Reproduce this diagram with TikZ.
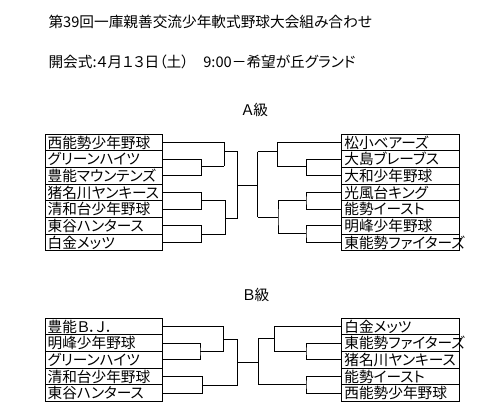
\documentclass[tikz,border=0pt]{standalone}
\usepackage{fontspec}
\setmainfont{Noto Sans CJK JP}[RawFeature=+palt]
\usetikzlibrary{positioning}

\begin{document}
\begin{tikzpicture}[x=0.75pt, y=-0.75pt, node distance=0pt,
    every node/.style={font=\fontsize{11}{13}\selectfont},
    team/.style={draw, line width=0.75pt, minimum width=88pt,
    minimum height=12.5pt, text width=84pt, inner xsep=2pt,
    inner ysep=0pt, outer sep=0pt, align=left},
    every path/.style={line width=0.75pt}]
  \useasboundingbox (0,0) rectangle (501,419);
  \node[anchor=west, inner sep=0pt] (title) at (48,22) {第39回一庫親善交流少年軟式野球大会組み合わせ};
  \node[anchor=west, inner sep=0pt] (date) at (48,62) {開会式:４月１３日（土）　9:00－希望が丘グランド};
  \node (gradeA) at (255,110) {Ａ級};
  \node (gradeB) at (256,295) {Ｂ級};

  % A級
  \node[team, anchor=north west] (al1) at (45,134.3) {西能勢少年野球};
  \node[team, below=of al1] (al2) {グリーンハイツ};
  \node[team, below=of al2] (al3) {豊能マウンテンズ};
  \node[team, below=of al3] (al4) {猪名川ヤンキース};
  \node[team, below=of al4] (al5) {清和台少年野球};
  \node[team, below=of al5] (al6) {東谷ハンタース};
  \node[team, below=of al6] (al7) {白金メッツ};

  \node[team, anchor=north west] (ar1) at (341.7,134.3) {松小ベアーズ};
  \node[team, below=of ar1] (ar2) {大島ブレーブス};
  \node[team, below=of ar2] (ar3) {大和少年野球};
  \node[team, below=of ar3] (ar4) {光風台キング};
  \node[team, below=of ar4] (ar5) {能勢イースト};
  \node[team, below=of ar5] (ar6) {明峰少年野球};
  \node[team, below=of ar6] (ar7) {東能勢ファイターズ};

  \coordinate (la1) at (224,166);
  \coordinate (la23) at (201.7,166);
  \coordinate (la45) at (201.7,200);
  \coordinate (la67) at (201.7,234.3);
  \coordinate (lt) at (224,151);
  \coordinate (lb) at (225.7,218.3);
  \coordinate (lc) at (237.3,185);
  \coordinate (fc) at (257.7,185);
  \coordinate (ft) at (257.7,151.7);
  \coordinate (fb) at (257.7,217.3);
  \coordinate (ra1) at (277.5,166);
  \coordinate (ra23) at (306.5,166);
  \coordinate (ra45) at (306,200);
  \coordinate (ra67) at (306,233.3);
  \coordinate (rb) at (278,217.3);

  \draw (al1.east) -| (la1);
  \draw (al2.east) -| (la23) |- (al3.east);
  \draw (la23) -- (la1);
  \draw (al4.east) -| (la45) |- (al5.east);
  \draw (al6.east) -| (la67) |- (al7.east);
  \draw (la45) -| (lb) |- (la67);
  \draw (lt) -| (lc) |- (lb);
  \draw (lc) -- (fc);
  \draw (ft) -- (fb);
  \draw (ft) -- (ft -| ra1);
  \draw (ar1.west) -| (ra1) -- (ra23);
  \draw (ar2.west) -| (ra23) |- (ar3.west);
  \draw (ar4.west) -| (ra45) |- (ar5.west);
  \draw (ar6.west) -| (ra67) |- (ar7.west);
  \draw (ra45) -| (rb) |- (ra67);
  \draw (fb) -- (rb);

  % B級
  \node[team, anchor=north west] (bl1) at (45,318.3) {豊能Ｂ．Ｊ．};
  \node[team, below=of bl1] (bl2) {明峰少年野球};
  \node[team, below=of bl2] (bl3) {グリーンハイツ};
  \node[team, below=of bl3] (bl4) {清和台少年野球};
  \node[team, below=of bl4] (bl5) {東谷ハンタース};

  \node[team, anchor=north west] (br1) at (341.7,318.3) {白金メッツ};
  \node[team, below=of br1] (br2) {東能勢ファイターズ};
  \node[team, below=of br2] (br3) {猪名川ヤンキース};
  \node[team, below=of br3] (br4) {能勢イースト};
  \node[team, below=of br4] (br5) {西能勢少年野球};

  \coordinate (p1) at (223.3,351.7);
  \coordinate (p23) at (200,351.7);
  \coordinate (p45) at (202.7,385);
  \coordinate (pt) at (223.3,339);
  \coordinate (pc) at (237.3,362.3);
  \coordinate (pf) at (258.3,362.3);
  \coordinate (qt) at (258.3,338.3);
  \coordinate (qb) at (258.3,384.3);
  \coordinate (q1) at (274.3,351);
  \coordinate (q23) at (306,351);
  \coordinate (q45) at (306,384.3);

  \draw (bl1.east) -| (p1);
  \draw (bl2.east) -| (p23) |- (bl3.east);
  \draw (p23) -- (p1);
  \draw (bl4.east) -| (p45) |- (bl5.east);
  \draw (pt) -| (pc) |- (p45);
  \draw (pc) -- (pf);
  \draw (qt) -- (qb);
  \draw (qt) -- (qt -| q1);
  \draw (br1.west) -| (q1) -- (q23);
  \draw (br2.west) -| (q23) |- (br3.west);
  \draw (br4.west) -| (q45) |- (br5.west);
  \draw (qb) -- (q45);
\end{tikzpicture}
\end{document}
